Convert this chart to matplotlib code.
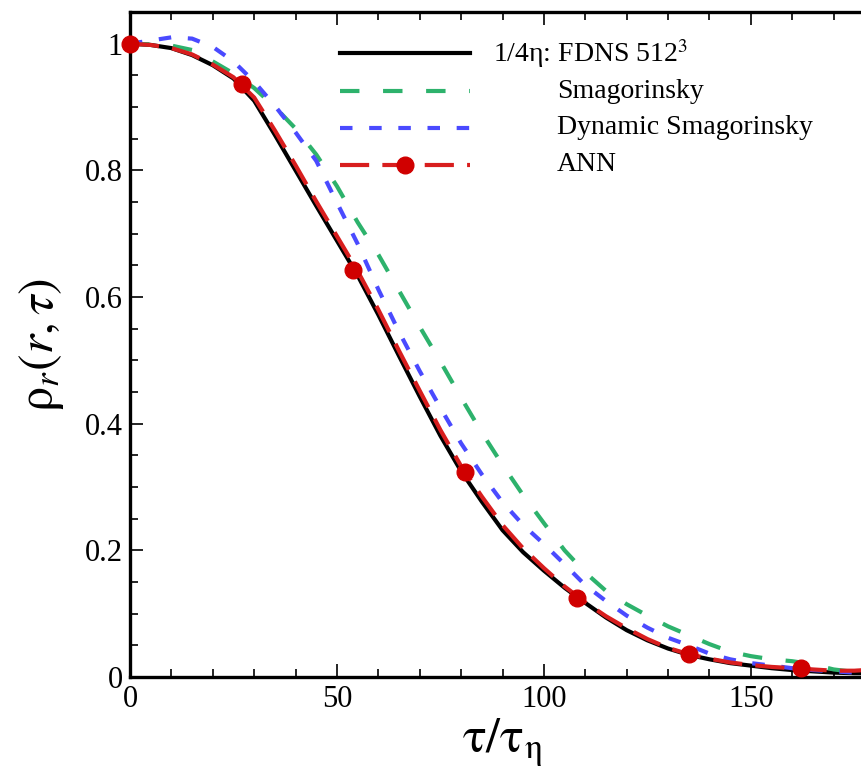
import matplotlib
matplotlib.use("Agg")
import matplotlib.pyplot as plt
from matplotlib.ticker import MultipleLocator, FuncFormatter

plt.rcParams['font.family'] = ['Liberation Serif', 'DejaVu Serif']
plt.rcParams['mathtext.fontset'] = 'stix'
plt.rcParams['lines.scale_dashes'] = False

tau = [0, 5, 10, 15, 20, 25, 30, 35, 40, 45, 50, 55, 60, 65, 70, 75, 80, 85, 90,
       95, 100, 105, 110, 115, 120, 125, 130, 135, 140, 145, 150, 155, 160, 165,
       170, 175, 180]

fdns = [1.0, 0.998, 0.993, 0.982, 0.966, 0.945, 0.910, 0.856, 0.800, 0.744, 0.689,
        0.634, 0.572, 0.507, 0.443, 0.381, 0.325, 0.277, 0.232, 0.197, 0.168,
        0.141, 0.117, 0.094, 0.074, 0.058, 0.045, 0.035, 0.028, 0.022, 0.018,
        0.014, 0.011, 0.009, 0.007, 0.006, 0.006]

smag = [1.0, 0.999, 0.997, 0.990, 0.972, 0.953, 0.930, 0.900, 0.866, 0.825, 0.775,
        0.718, 0.667, 0.610, 0.553, 0.498, 0.441, 0.386, 0.335, 0.287, 0.243,
        0.200, 0.165, 0.136, 0.115, 0.097, 0.080, 0.066, 0.052, 0.040, 0.033,
        0.028, 0.025, 0.020, 0.012, 0.008, 0.007]

dyn = [1.0, 1.005, 1.010, 1.008, 0.995, 0.972, 0.940, 0.902, 0.860, 0.815, 0.749,
       0.684, 0.612, 0.545, 0.483, 0.425, 0.369, 0.320, 0.276, 0.240, 0.210,
       0.178, 0.145, 0.120, 0.097, 0.078, 0.062, 0.050, 0.037, 0.028, 0.022,
       0.018, 0.014, 0.011, 0.009, 0.007, 0.006]

ann = [1.0, 0.998, 0.993, 0.983, 0.967, 0.947, 0.915, 0.863, 0.808, 0.751, 0.696,
       0.641, 0.580, 0.515, 0.452, 0.390, 0.333, 0.285, 0.240, 0.203, 0.172,
       0.143, 0.118, 0.096, 0.077, 0.060, 0.046, 0.036, 0.029, 0.023, 0.019,
       0.016, 0.014, 0.012, 0.010, 0.010, 0.012]

ann_mark_tau = [0, 27, 54, 81, 108, 135, 162]
ann_mark_val = [1.0, 0.936, 0.643, 0.324, 0.125, 0.036, 0.014]

labels = ['1/4η: FDNS 512$^3$', 'Smagorinsky', 'Dynamic Smagorinsky', 'ANN']

c_black = 'black'
c_green = '#2DB26C'
c_blue = '#4A4AFF'
c_red = '#D81E1E'
c_mark = '#D00000'

fig = plt.figure(figsize=(8.62, 7.80), dpi=100)
ax = fig.add_axes([0.1508, 0.132, 0.8643, 0.8526])

ax.plot(tau, fdns, color=c_black, lw=3.0, solid_capstyle='butt')
l_s, = ax.plot(tau, smag, color=c_green, lw=3.0)
l_s.set_dashes((14, 17))
l_d, = ax.plot(tau, dyn, color=c_blue, lw=3.0)
l_d.set_dashes((9, 12))
l_a, = ax.plot(tau, ann, color=c_red, lw=3.0)
l_a.set_dashes((21, 9.5))
ax.plot(ann_mark_tau, ann_mark_val, ls='none', marker='o', ms=12,
        color=c_mark, clip_on=False, zorder=5)

ax.set_xlim(0, 180)
ax.set_ylim(0, 1.05)
ax.xaxis.set_major_locator(MultipleLocator(50))
ax.xaxis.set_minor_locator(MultipleLocator(10))
ax.yaxis.set_major_locator(MultipleLocator(0.2))
ax.yaxis.set_minor_locator(MultipleLocator(0.05))
ax.yaxis.set_major_formatter(FuncFormatter(lambda v, p: '%g' % round(v, 2)))
ax.tick_params(which='both', direction='in', top=True, right=True, width=1.2,
               labelsize=22, color='black')
ax.tick_params(which='major', length=9.5)
ax.tick_params(which='minor', length=5.5)
ax.tick_params(axis='x', pad=6)
ax.tick_params(axis='y', pad=5)
for s in ax.spines.values():
    s.set_linewidth(2.4)

ax.set_xlabel(r'$\mathrm{\tau/\tau_\eta}$', fontsize=36, labelpad=2)
ax.set_ylabel(r'$\mathrm{\rho}_r(r,\tau)$', fontsize=36, labelpad=14)

# legend drawn manually
ys = [0.938, 0.881, 0.8256, 0.770]
x0, x1 = 0.2819, 0.4564
ax.plot([x0, x1], [ys[0]] * 2, color=c_black, lw=3.0, transform=ax.transAxes)
lg, = ax.plot([x0, x1], [ys[1]] * 2, color=c_green, lw=3.0, transform=ax.transAxes)
lg.set_dashes((14, 17))
lb, = ax.plot([x0, x1], [ys[2]] * 2, color=c_blue, lw=3.0, transform=ax.transAxes)
lb.set_dashes((9, 12))
lr, = ax.plot([x0, x1], [ys[3]] * 2, color=c_red, lw=3.0, transform=ax.transAxes)
lr.set_dashes((21, 9.5))
ax.plot([0.369], [ys[3]], marker='o', ms=12, color=c_mark, transform=ax.transAxes)
tx = [0.487, 0.573, 0.573, 0.573]
for t, yv, xv in zip(labels, ys, tx):
    ax.text(xv, yv, t, transform=ax.transAxes, fontsize=20, va='center', ha='left')

fig.savefig('out.png', dpi=100)
